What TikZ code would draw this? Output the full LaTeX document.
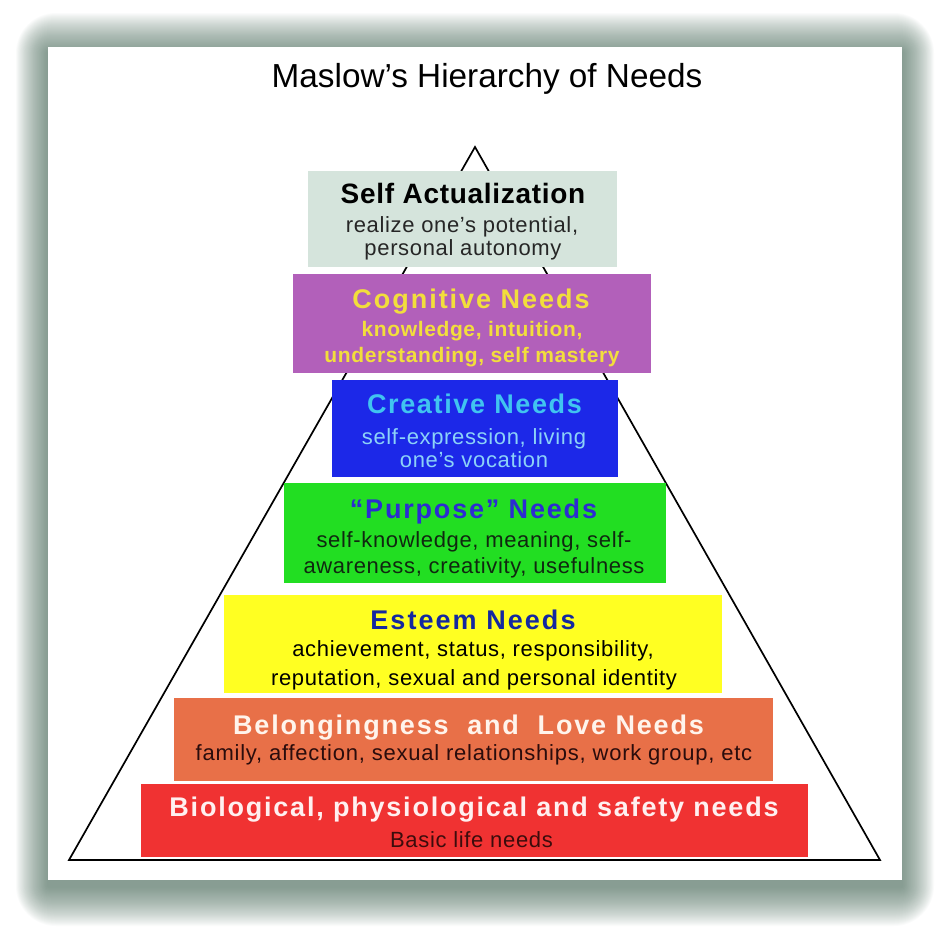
\documentclass[tikz,border=0pt]{standalone}
\usepackage{fontspec}
\setmainfont{Liberation Sans}
\definecolor{shadowc}{RGB}{60,95,78}
\definecolor{selfc}{RGB}{213,228,220}
\definecolor{cogc}{RGB}{178,96,186}
\definecolor{cogt}{RGB}{242,222,60}
\definecolor{crec}{RGB}{28,40,232}
\definecolor{cret}{RGB}{64,196,240}
\definecolor{cres}{RGB}{140,210,248}
\definecolor{purc}{RGB}{34,222,34}
\definecolor{purt}{RGB}{44,44,210}
\definecolor{purs}{RGB}{16,40,16}
\definecolor{estc}{RGB}{255,255,34}
\definecolor{estt}{RGB}{20,40,160}
\definecolor{belc}{RGB}{232,112,72}
\definecolor{belt}{RGB}{255,244,236}
\definecolor{bels}{RGB}{42,12,12}
\definecolor{bioc}{RGB}{240,50,50}
\definecolor{biot}{RGB}{255,240,240}
\definecolor{bios}{RGB}{60,12,12}
\tikzset{
  lvl/.style={rectangle, inner sep=0pt, outer sep=0pt, draw=none},
  ttl/.style={anchor=base, inner sep=0pt, font=\fontsize{27}{27}\selectfont\bfseries},
  subl/.style={anchor=base, inner sep=0pt, font=\fontsize{22}{22}\selectfont\addfontfeature{LetterSpace=3}},
}
\begin{document}
\begin{tikzpicture}[x=1pt,y=-1pt]
\useasboundingbox (0,0) rectangle (950,930);
% shadow and panel
\foreach \i in {1,...,40}{
  \fill[shadowc, opacity=0.025, rounded corners=\i pt] (48-0.8*\i,47-\i+6) rectangle (902+0.8*\i,880+\i+6);
}
\fill[white] (48,47) rectangle (902,880);
% title
\node[anchor=base, inner sep=0pt, font=\fontsize{33.3}{33}\selectfont] (title) at (487,87) {Maslow's Hierarchy of Needs};
% triangle
\coordinate (apex) at (475,147);
\coordinate (bl) at (69,860);
\coordinate (br) at (880,860);
\draw[line width=1.7pt, line join=miter] (apex) -- (bl) -- (br) -- cycle;
% boxes
\node[lvl, fill=selfc, minimum width=309, minimum height=96] (self) at (462.5,219) {};
\node[lvl, fill=cogc, minimum width=358, minimum height=99] (cog) at (472,323.5) {};
\node[lvl, fill=crec, minimum width=286, minimum height=97] (cre) at (475,428.5) {};
\node[lvl, fill=purc, minimum width=382, minimum height=100] (pur) at (475,533) {};
\node[lvl, fill=estc, minimum width=498, minimum height=98] (est) at (473,644) {};
\node[lvl, fill=belc, minimum width=599, minimum height=83] (bel) at (473.5,739.5) {};
\node[lvl, fill=bioc, minimum width=667, minimum height=73] (bio) at (474.5,820.5) {};
% texts
\node[ttl, font=\fontsize{28}{28}\selectfont\bfseries\addfontfeature{LetterSpace=2.5}] (selfT) at (463,203) {Self Actualization};
\node[subl, text=black!85] (selfA) at (462,232) {realize one’s potential,};
\node[subl, text=black!85] (selfB) at (463,255) {personal autonomy};

\node[ttl, text=cogt, font=\fontsize{27}{27}\selectfont\bfseries\addfontfeature{LetterSpace=7.3}] (cogT) at (471,308) {Cognitive Needs};
\node[subl, text=cogt, font=\fontsize{21}{21}\selectfont\bfseries\addfontfeature{LetterSpace=3}] (cogA) at (472,336) {knowledge, intuition,};
\node[subl, text=cogt, font=\fontsize{21}{21}\selectfont\bfseries\addfontfeature{LetterSpace=3}] (cogB) at (472,362) {understanding, self mastery};

\node[ttl, text=cret, font=\fontsize{27}{27}\selectfont\bfseries\addfontfeature{LetterSpace=6.1}] (creT) at (474.5,413) {Creative Needs};
\node[subl, text=cres] (creA) at (474,444) {self-expression, living};
\node[subl, text=cres] (creB) at (474,467) {one’s vocation};

\node[ttl, text=purt, font=\fontsize{27}{27}\selectfont\bfseries\addfontfeature{LetterSpace=6.7}] (purT) at (473.5,518) {“Purpose” Needs};
\node[subl, text=purs] (purA) at (474,547) {self-knowledge, meaning, self-};
\node[subl, text=purs] (purB) at (474,573) {awareness, creativity, usefulness};

\node[ttl, text=estt, font=\fontsize{27}{27}\selectfont\bfseries\addfontfeature{LetterSpace=7.6}] (estT) at (473,629) {Esteem Needs};
\node[subl, text=black] (estA) at (473,656) {achievement, status, responsibility,};
\node[subl, text=black] (estB) at (474,685) {reputation, sexual and personal identity};

\node[ttl, text=belt, font=\fontsize{27}{27}\selectfont\bfseries\addfontfeature{LetterSpace=6.8}] (belT) at (468.5,734) {Belongingness\ \ and\ \ Love Needs};
\node[subl, text=bels, font=\fontsize{22}{22}\selectfont\addfontfeature{LetterSpace=3.5}] (belA) at (474,760) {family, affection, sexual relationships, work group, etc};

\node[ttl, text=biot, font=\fontsize{27}{27}\selectfont\bfseries\addfontfeature{LetterSpace=6.6}] (bioT) at (474,816) {Biological, physiological and safety needs};
\node[subl, text=bios] (bioA) at (471.5,847) {Basic life needs};
\end{tikzpicture}
\end{document}
